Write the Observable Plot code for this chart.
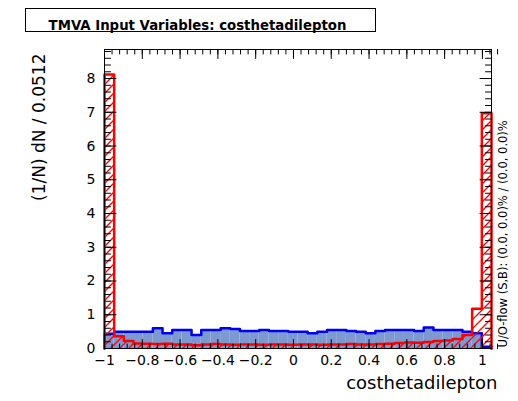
<!DOCTYPE html>
<html><head><meta charset="utf-8">
<script src="https://cdn.jsdelivr.net/npm/d3@7"></script>
<script src="https://cdn.jsdelivr.net/npm/@observablehq/plot@0.6"></script>
<style>body{margin:0;background:#fff;}</style>
</head><body>
<div id="chart"></div>
<script>
const title = "TMVA Input Variables: costhetadilepton";
const xLabel = "costhetadilepton";
const yLabel = "(1/N) dN / 0.0512";
const flowLabel = "U/O-flow (S,B): (0.0, 0.0)% / (0.0, 0.0)%";
const xMin = -1, binWidth = 0.0512;
const signal = [0.44,0.50,0.50,0.50,0.50,0.60,0.45,0.55,0.55,0.40,
                0.55,0.55,0.60,0.58,0.52,0.52,0.55,0.52,0.52,0.50,
                0.50,0.45,0.50,0.55,0.55,0.52,0.50,0.45,0.52,0.55,
                0.55,0.55,0.52,0.62,0.55,0.55,0.55,0.50,0.45,0.05];
const background = [8.12,0.36,0.22,0.15,0.14,0.13,0.14,0.12,0.12,0.10,
                    0.12,0.13,0.12,0.11,0.12,0.12,0.11,0.12,0.12,0.11,
                    0.12,0.12,0.11,0.12,0.12,0.13,0.12,0.12,0.13,0.14,
                    0.16,0.18,0.17,0.19,0.22,0.24,0.28,0.40,1.18,6.97];
const xTickValues = [-1,-0.8,-0.6,-0.4,-0.2,0,0.2,0.4,0.6,0.8,1];
const yTickValues = [0,1,2,3,4,5,6,7,8];
const xMinorTicks = d3.range(0, 53).map(i => +(xMin + i * 0.04).toFixed(3));
const yMinorTicks = d3.range(0, 45).map(i => +(i * 0.2).toFixed(2));

const bins = signal.map((s, i) => ({x1: xMin + i * binWidth, x2: xMin + (i + 1) * binWidth, s, b: background[i]}));
function outline(key) {
  const pts = [{x: bins[0].x1, y: 0}];
  for (const d of bins) { pts.push({x: d.x1, y: d[key]}, {x: d.x2, y: d[key]}); }
  pts.push({x: bins[bins.length - 1].x2, y: 0});
  return pts;
}
const fmt = d => (d < 0 ? "\u2212" : "") + Math.abs(d);
const tickShape = {draw(ctx, l) { ctx.moveTo(0, 0); ctx.lineTo(0, -l); }};
const tick = (data, anchor, rotate, len) => Plot.vector(data, {
  [anchor === "bottom" || anchor === "top" ? "x" : "y"]: d => d,
  frameAnchor: anchor, rotate, length: len, anchor: "start", shape: tickShape, stroke: "black", strokeWidth: 1
});
// hatch renderer: draws "/" lines inside each rect, using scaled pixel positions
function hatch(spacing, color) {
  return (index, scales, values, dims, ctx, next) => {
    const g = next(index, scales, values, dims, ctx);
    const X1 = values.x1, X2 = values.x2, Y1 = values.y1, Y2 = values.y2;
    let d = "";
    for (const i of index) {
      const xa = Math.min(X1[i], X2[i]), xb = Math.max(X1[i], X2[i]);
      const ya = Math.min(Y1[i], Y2[i]), yb = Math.max(Y1[i], Y2[i]);
      const cStart = Math.ceil((xa + ya) / spacing) * spacing;
      for (let c = cStart; c <= xb + yb; c += spacing) {
        const s = Math.max(xa, c - yb), e = Math.min(xb, c - ya);
        if (e > s) d += `M${s},${c - s}L${e},${c - e}`;
      }
    }
    const p = document.createElementNS("http://www.w3.org/2000/svg", "path");
    p.setAttribute("d", d);
    p.setAttribute("fill", "none");
    p.setAttribute("stroke", color);
    p.setAttribute("stroke-width", "1.3");
    g.appendChild(p);
    return g;
  };
}
const FONT = "'DejaVu Sans', 'Liberation Sans', Arial, sans-serif";

const svg = Plot.plot({
  width: 518, height: 401,
  marginLeft: 104, marginRight: 27, marginTop: 49, marginBottom: 53,
  style: {fontFamily: FONT, background: "white"},
  x: {domain: [xMin, xMin + 40 * binWidth], axis: null},
  y: {domain: [0, 8.86], axis: null},
  marks: [
    Plot.rectY(bins, {x1: "x1", x2: "x2", y: "s", fill: "#7d99d1"}),
    Plot.line(outline("s"), {x: "x", y: "y", stroke: "#0000ee", strokeWidth: 2.5}),
    Plot.rectY(bins, {x1: "x1", x2: "x2", y: "b", fill: "none", stroke: "none", render: hatch(9, "#ff0000")}),
    Plot.line(outline("b"), {x: "x", y: "y", stroke: "#ff0000", strokeWidth: 2.5}),
    Plot.frame({stroke: "black", strokeWidth: 1}),
    tick(xTickValues, "bottom", 0, 9),
    tick(xMinorTicks, "bottom", 0, 4.5),
    tick(xTickValues, "top", 180, 9),
    tick(xMinorTicks, "top", 180, 4.5),
    tick(yTickValues, "left", 90, 11.5),
    tick(yMinorTicks, "left", 90, 6),
    tick(yTickValues, "right", -90, 11.5),
    tick(yMinorTicks, "right", -90, 6),
    Plot.axisX(xTickValues, {anchor: "bottom", tickSize: 0, tickPadding: 7, fontSize: 14, tickFormat: fmt, label: null}),
    Plot.axisY(yTickValues, {anchor: "left", tickSize: 0, tickPadding: 9, fontSize: 14, tickFormat: fmt, label: null}),
    Plot.text([xLabel], {frameAnchor: "bottom-right", textAnchor: "end", dx: 6, dy: 40, fontSize: 18}),
    Plot.text([yLabel], {frameAnchor: "top-left", textAnchor: "end", rotate: -90, dx: -72, dy: 4, fontSize: 17}),
    Plot.text([flowLabel], {frameAnchor: "bottom-right", textAnchor: "start", rotate: -90, dx: 15, dy: -1, fontSize: 11.5}),
    Plot.text([title], {frameAnchor: "top-left", textAnchor: "middle", dx: 93, dy: -29, fontSize: 13.3, fontWeight: "bold"})
  ]
});
d3.select(svg).append("rect").attr("x", 25.5).attr("y", 8.5).attr("width", 350).attr("height", 23)
  .attr("fill", "none").attr("stroke", "black").attr("stroke-width", 1);
document.getElementById("chart").appendChild(svg);
</script>
</body></html>
